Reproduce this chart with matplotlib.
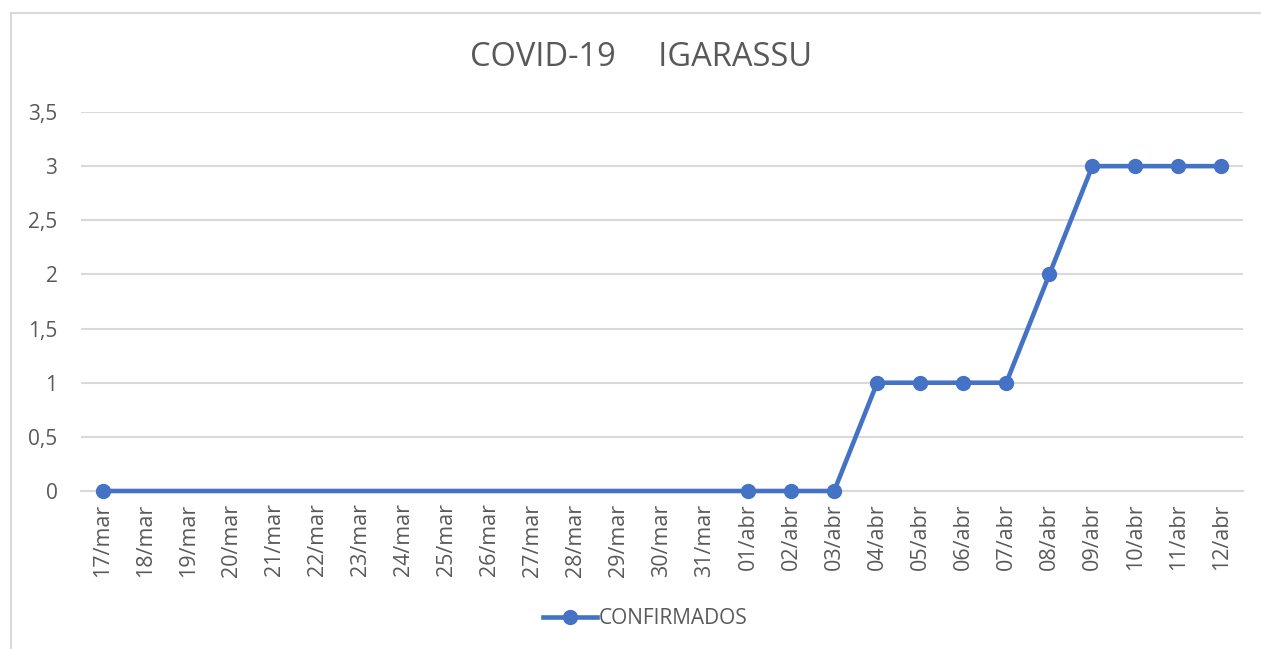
import matplotlib
matplotlib.use("Agg")
import matplotlib.pyplot as plt
from matplotlib.lines import Line2D

categories = ["17/mar", "18/mar", "19/mar", "20/mar", "21/mar", "22/mar", "23/mar",
              "24/mar", "25/mar", "26/mar", "27/mar", "28/mar", "29/mar", "30/mar",
              "31/mar", "01/abr", "02/abr", "03/abr", "04/abr", "05/abr", "06/abr",
              "07/abr", "08/abr", "09/abr", "10/abr", "11/abr", "12/abr"]
data_dates = ["17/mar", "01/abr", "02/abr", "03/abr", "04/abr", "05/abr", "06/abr",
              "07/abr", "08/abr", "09/abr", "10/abr", "11/abr", "12/abr"]
confirmados = [0, 0, 0, 0, 1, 1, 1, 1, 2, 3, 3, 3, 3]
yticks = [0, 0.5, 1, 1.5, 2, 2.5, 3, 3.5]
ytick_labels = ["0", "0,5", "1", "1,5", "2", "2,5", "3", "3,5"]

plt.rcParams['font.family'] = ['Open Sans', 'DejaVu Sans']
txt = "#595959"
blue = "#4472C4"
grid = "#D9D9D9"

fig = plt.figure(figsize=(12.61, 6.49), dpi=100)
ax = fig.add_axes([81/1261, 1-491/649, (1243-81)/1261, (491-112)/649])

xs = [categories.index(d) for d in data_dates]
ax.plot(xs, confirmados, color=blue, lw=3.3, marker="o", markersize=10,
        solid_capstyle="round", zorder=3, clip_on=False)

ax.set_xlim(-0.5, len(categories) - 0.5)
ax.set_ylim(0, 3.5)
ax.set_yticks(yticks)
ax.set_yticklabels(ytick_labels, color=txt, fontsize=15)
ax.set_xticks(range(len(categories)))
ax.set_xticklabels(categories, rotation=90, color=txt, fontsize=15.5)
ax.tick_params(axis="y", length=0, pad=17)
ax.tick_params(axis="x", length=0, pad=9)
ax.grid(axis="y", color=grid, lw=1.5)
ax.set_axisbelow(True)
for s in ["top", "right", "left"]:
    ax.spines[s].set_visible(False)
ax.spines["bottom"].set_color(grid)
ax.spines["bottom"].set_linewidth(1.5)

fig.text(641/1261, 1-58/649, "COVID-19     IGARASSU", ha="center", va="center",
         fontsize=23.5, color=txt)

handle = Line2D([], [], color=blue, lw=3.3, marker="o", markersize=10)
fig.legend([handle], ["CONFIRMADOS"], loc="center", bbox_to_anchor=(645/1261, 1-619/649),
           frameon=False, fontsize=15, labelcolor=txt, handlelength=2.6, handletextpad=0.1)

# chart border (left and top visible)
fig.add_artist(Line2D([11/1261, 11/1261], [0, 1-13/649], color=grid, lw=1.5,
                      transform=fig.transFigure))
fig.add_artist(Line2D([11/1261, 1], [1-13/649, 1-13/649], color=grid, lw=1.5,
                      transform=fig.transFigure))

fig.savefig("out.png", dpi=100, facecolor="white")
